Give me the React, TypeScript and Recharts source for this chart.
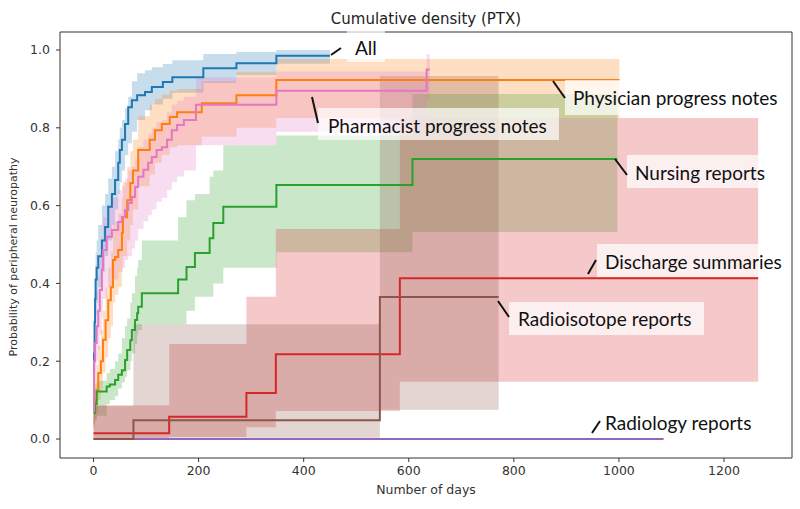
import React from 'react';
import { ComposedChart, Area, Line, XAxis, YAxis } from 'recharts';

// ---- Data ----
const dayTicks = [0, 200, 400, 600, 800, 1000, 1200];
const probTicks = [0, 0.2, 0.4, 0.6, 0.8, 1.0];

// All
const allDays = [0, 1, 2, 3, 4, 6, 9, 16, 22, 28, 35, 41, 47, 50, 54, 60, 66, 73, 83, 98, 111, 132, 150, 209, 272, 348, 450];
const allVals = [0.17, 0.22, 0.30, 0.36, 0.41, 0.44, 0.47, 0.51, 0.545, 0.597, 0.63, 0.666, 0.71, 0.743, 0.769, 0.81, 0.853, 0.871, 0.884, 0.892, 0.905, 0.918, 0.93, 0.953, 0.966, 0.985, 0.985];
const allLo = [0.12, 0.16, 0.22, 0.28, 0.32, 0.35, 0.39, 0.43, 0.47, 0.51, 0.55, 0.59, 0.63, 0.66, 0.69, 0.73, 0.76, 0.79, 0.82, 0.845, 0.86, 0.875, 0.89, 0.915, 0.935, 0.965, 0.965];
const allHi = [0.25, 0.31, 0.38, 0.44, 0.48, 0.51, 0.55, 0.60, 0.63, 0.67, 0.70, 0.74, 0.77, 0.80, 0.82, 0.85, 0.88, 0.92, 0.94, 0.948, 0.956, 0.964, 0.974, 0.99, 0.995, 1.0, 1.0];

// Physician progress notes
const physDays = [0, 3, 6, 9, 14, 18, 23, 28, 33, 37, 41, 47, 54, 56, 64, 70, 75, 85, 107, 117, 130, 145, 159, 206, 272, 348, 1001];
const physVals = [0.07, 0.10, 0.126, 0.17, 0.20, 0.255, 0.305, 0.357, 0.39, 0.46, 0.468, 0.486, 0.53, 0.57, 0.614, 0.658, 0.69, 0.743, 0.769, 0.794, 0.81, 0.828, 0.84, 0.863, 0.884, 0.923, 0.923];
const physLo = [0.03, 0.05, 0.07, 0.10, 0.13, 0.17, 0.21, 0.26, 0.29, 0.35, 0.37, 0.39, 0.43, 0.47, 0.51, 0.55, 0.59, 0.65, 0.68, 0.71, 0.73, 0.75, 0.755, 0.777, 0.80, 0.825, 0.825];
const physHi = [0.12, 0.16, 0.19, 0.24, 0.28, 0.33, 0.39, 0.44, 0.48, 0.55, 0.56, 0.58, 0.62, 0.66, 0.70, 0.74, 0.77, 0.83, 0.86, 0.875, 0.885, 0.895, 0.90, 0.92, 0.944, 0.977, 0.977];

// Nursing reports
const nursDays = [0, 3, 6, 25, 31, 41, 47, 54, 60, 64, 70, 73, 79, 83, 85, 92, 161, 177, 193, 221, 228, 247, 348, 607, 997];
const nursVals = [0.067, 0.09, 0.122, 0.135, 0.14, 0.152, 0.165, 0.177, 0.203, 0.229, 0.254, 0.28, 0.306, 0.323, 0.34, 0.375, 0.41, 0.442, 0.478, 0.516, 0.555, 0.597, 0.653, 0.72, 0.72];
const nursLo = [0.04, 0.05, 0.06, 0.09, 0.10, 0.11, 0.13, 0.145, 0.16, 0.177, 0.2, 0.22, 0.245, 0.27, 0.28, 0.295, 0.295, 0.33, 0.366, 0.366, 0.40, 0.44, 0.48, 0.532, 0.532];
const nursHi = [0.11, 0.14, 0.15, 0.17, 0.18, 0.2, 0.22, 0.26, 0.29, 0.31, 0.35, 0.375, 0.42, 0.44, 0.46, 0.51, 0.57, 0.614, 0.63, 0.674, 0.69, 0.755, 0.78, 0.887, 0.887];

// Discharge summaries
const discDays = [0, 144, 291, 347, 583, 1265];
const discVals = [0.015, 0.057, 0.118, 0.218, 0.413, 0.413];
const discLo = [0, 0.005, 0.03, 0.072, 0.147, 0.147];
const discHi = [0.087, 0.244, 0.366, 0.54, 0.825, 0.825];

// Radiology reports
const radiDays = [0, 1085];
const radiVals = [0, 0];
const radiLo = [0, 0];
const radiHi = [0, 0];

// Radioisotope reports
const isoDays = [0, 76, 545, 771];
const isoVals = [0, 0.048, 0.365, 0.365];
const isoLo = [0, 0.003, 0.075, 0.075];
const isoHi = [0.085, 0.295, 0.933, 0.933];

// Pharmacist progress notes
const pharDays = [0, 1, 3, 6, 9, 12, 16, 18, 25, 35, 47, 54, 60, 66, 73, 79, 85, 95, 104, 111, 120, 130, 140, 149, 159, 172, 195, 348, 634, 640];
const pharVals = [0.07, 0.2, 0.247, 0.29, 0.33, 0.383, 0.435, 0.486, 0.52, 0.537, 0.558, 0.571, 0.589, 0.607, 0.622, 0.648, 0.674, 0.692, 0.71, 0.725, 0.743, 0.75, 0.769, 0.794, 0.807, 0.82, 0.859, 0.895, 0.95, 0.95];
const pharLo = [0.03, 0.12, 0.16, 0.20, 0.23, 0.27, 0.31, 0.36, 0.39, 0.41, 0.43, 0.44, 0.46, 0.47, 0.49, 0.51, 0.54, 0.56, 0.575, 0.59, 0.61, 0.62, 0.64, 0.66, 0.675, 0.69, 0.755, 0.79, 0.87, 0.87];
const pharHi = [0.14, 0.28, 0.33, 0.38, 0.42, 0.47, 0.52, 0.57, 0.60, 0.62, 0.64, 0.65, 0.67, 0.69, 0.70, 0.72, 0.75, 0.77, 0.785, 0.80, 0.815, 0.82, 0.84, 0.86, 0.87, 0.88, 0.93, 0.945, 0.99, 0.99];

type Pt = { day: number; v: number; band: [number, number] };
const build = (d: number[], v: number[], lo: number[], hi: number[]): Pt[] =>
  d.map((day, i) => ({ day, v: v[i], band: [lo[i], hi[i]] as [number, number] }));

const series = [
  { key: 'all', color: '#1f77b4', data: build(allDays, allVals, allLo, allHi) },
  { key: 'phys', color: '#ff7f0e', data: build(physDays, physVals, physLo, physHi) },
  { key: 'nurs', color: '#2ca02c', data: build(nursDays, nursVals, nursLo, nursHi) },
  { key: 'disc', color: '#d62728', data: build(discDays, discVals, discLo, discHi) },
  { key: 'radi', color: '#9467bd', data: build(radiDays, radiVals, radiLo, radiHi) },
  { key: 'iso', color: '#8c564b', data: build(isoDays, isoVals, isoLo, isoHi) },
  { key: 'phar', color: '#e377c2', data: build(pharDays, pharVals, pharLo, pharHi) },
];

const annotations = [
  { text: 'All', box: [347, 29, 38, 33], tx: 355, ty: 47, line: [331, 55, 341, 48] },
  { text: 'Physician progress notes', box: [565, 80, 218, 35], tx: 573, ty: 97, line: [553, 81, 565, 98] },
  { text: 'Pharmacist progress notes', box: [318, 108, 241, 32], tx: 328, ty: 125, line: [312, 97, 318, 123] },
  { text: 'Nursing reports', box: [627, 155, 133, 33], tx: 635, ty: 172, line: [615, 159, 627, 175] },
  { text: 'Discharge summaries', box: [597, 244, 192, 33], tx: 605, ty: 261, line: [588, 274, 596, 260] },
  { text: 'Radioisotope reports', box: [509, 302, 195, 33], tx: 518, ty: 318, line: [498, 301, 509, 317] },
  { text: 'Radiology reports', box: [597, 405, 163, 33], tx: 605, ty: 422, line: [592, 433, 600, 421] },
];

const DAY_DOMAIN: [number, number] = [-63.8, 1329.4];
const PROB_DOMAIN: [number, number] = [-0.0488, 1.0463];
const AX = '#333';
const tickFont = { fontFamily: 'DejaVu Sans', fontSize: 12.5, fill: '#333' };
const PLOT = { left: 60, top: 32, right: 792, bottom: 458 };

export default function App() {
  return (
    <div style={{ position: 'absolute', left: 0, top: 0, width: 800, height: 509, background: '#fff' }}>
      <ComposedChart width={800} height={509} margin={{ top: PLOT.top, right: 800 - PLOT.right, bottom: 0, left: 0 }}>
        <XAxis
          type="number"
          dataKey="day"
          domain={DAY_DOMAIN}
          allowDataOverflow
          ticks={dayTicks}
          height={509 - PLOT.bottom}
          tickSize={4}
          tickMargin={4}
          stroke={AX}
          tick={tickFont}
          interval={0}
        />
        <YAxis
          type="number"
          domain={PROB_DOMAIN}
          allowDataOverflow
          ticks={probTicks}
          width={PLOT.left}
          tickSize={4}
          tickMargin={6}
          stroke={AX}
          tick={tickFont}
          interval={0}
          tickFormatter={(t: number) => t.toFixed(1)}
        />
        {series.flatMap((s) => [
          <Area
            key={s.key + '-band'}
            data={s.data}
            dataKey="band"
            type="stepAfter"
            stroke="none"
            fill={s.color}
            fillOpacity={0.25}
            isAnimationActive={false}
            activeDot={false}
          />,
          <Line
            key={s.key + '-line'}
            data={s.data}
            dataKey="v"
            type="stepAfter"
            stroke={s.color}
            strokeWidth={2}
            dot={false}
            activeDot={false}
            isAnimationActive={false}
          />,
        ])}
      </ComposedChart>
      <svg width={800} height={509} style={{ position: 'absolute', left: 0, top: 0, pointerEvents: 'none' }}>
        <polyline
          points={`${PLOT.left},${PLOT.top} ${PLOT.right},${PLOT.top} ${PLOT.right},${PLOT.bottom}`}
          fill="none"
          stroke={AX}
          strokeWidth={1}
        />
        <text x={426} y={24} textAnchor="middle" fontFamily="DejaVu Sans" fontSize={15} fill="#222">
          Cumulative density (PTX)
        </text>
        <text x={426} y={494} textAnchor="middle" fontFamily="DejaVu Sans" fontSize={12.5} fill="#333">
          Number of days
        </text>
        <text transform="translate(17,257) rotate(-90)" textAnchor="middle" fontFamily="DejaVu Sans" fontSize={11} fill="#333">
          Probability of peripheral neuropathy
        </text>
        {annotations.map((a) => (
          <g key={a.text}>
            <rect x={a.box[0]} y={a.box[1]} width={a.box[2]} height={a.box[3]} fill="#fff" fillOpacity={0.7} />
            <line x1={a.line[0]} y1={a.line[1]} x2={a.line[2]} y2={a.line[3]} stroke="#111" strokeWidth={2} />
            <text x={a.tx} y={a.ty} dominantBaseline="central" fontFamily="Lato" fontSize={19} fill="#111">
              {a.text}
            </text>
          </g>
        ))}
      </svg>
    </div>
  );
}
